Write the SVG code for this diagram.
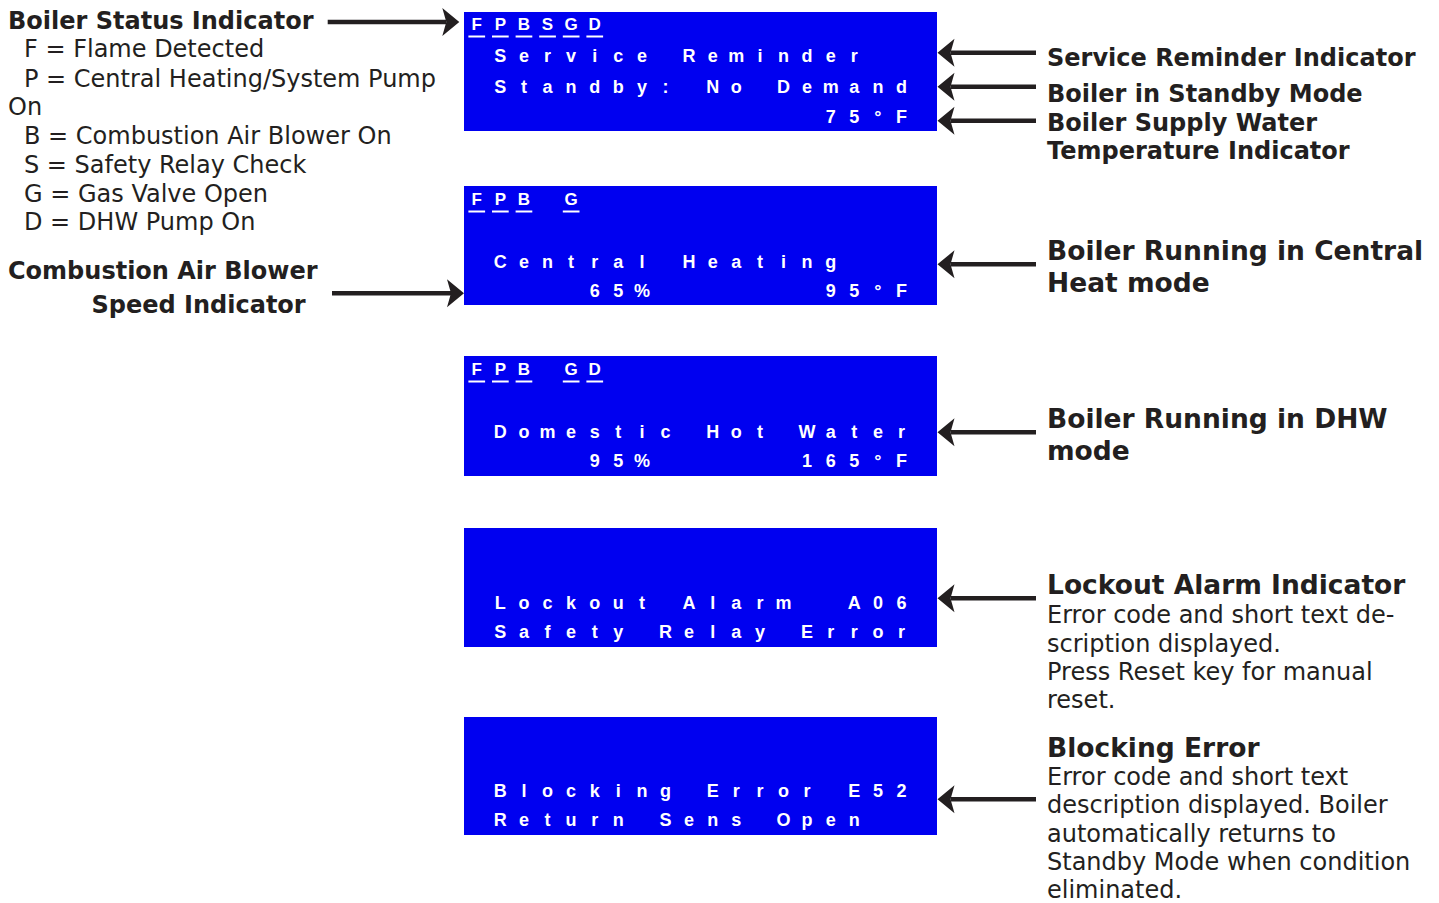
<svg xmlns="http://www.w3.org/2000/svg" width="1439" height="903" viewBox="0 0 1439 903">
<style>
.bg{fill:#ffffff}
.lcd{fill:#0000f0}
.lt{font-family:"Liberation Sans",Arial,sans-serif;font-weight:bold;font-size:18px;fill:#ffffff;text-anchor:middle;white-space:pre}
.lt0{font-size:17px}
.ul{fill:#ffffff}
.hb{font-family:"DejaVu Sans",Verdana,sans-serif;font-weight:bold;font-size:24px;fill:#231f20}
.hr{font-family:"DejaVu Sans",Verdana,sans-serif;font-size:24px;fill:#231f20}
.rb{font-family:"DejaVu Sans",Verdana,sans-serif;font-weight:bold;font-size:24px;fill:#231f20}
.rb2{font-family:"DejaVu Sans",Verdana,sans-serif;font-weight:bold;font-size:26.5px;fill:#231f20}
.rr{font-family:"DejaVu Sans",Verdana,sans-serif;font-size:24px;fill:#231f20}
.conn line{stroke:#231f20;stroke-width:4.5;fill:none;marker-end:url(#ah)}
</style>
<defs>
<marker id="ah" markerUnits="userSpaceOnUse" viewBox="0 -15 18 30" refX="4" refY="0" markerWidth="18" markerHeight="30" orient="auto">
<path d="M0,-14 L17,0 L0,14 L4,0 Z" fill="#231f20"/>
</marker>
</defs>
<rect class="bg" x="0" y="0" width="1439" height="903"/>

<g id="lcd-standby">
<rect class="lcd" x="464" y="12" width="473" height="119"/>
<text class="lt lt0" xml:space="preserve" x="476.7 500.3 523.9 547.5 571.1 594.7" y="30">FPBSGD</text>
<rect class="ul" x="468.4" y="35.5" width="16.7" height="2"/>
<rect class="ul" x="492" y="35.5" width="16.7" height="2"/>
<rect class="ul" x="515.6" y="35.5" width="16.7" height="2"/>
<rect class="ul" x="539.2" y="35.5" width="16.7" height="2"/>
<rect class="ul" x="562.8" y="35.5" width="16.7" height="2"/>
<rect class="ul" x="586.4" y="35.5" width="16.7" height="2"/>
<text class="lt" xml:space="preserve" x="500.3 523.9 547.5 571.1 594.7 618.3 641.9 665.5 689.1 712.7 736.3 759.9 783.5 807.1 830.7 854.3" y="61.5">Service Reminder</text>
<text class="lt" xml:space="preserve" x="500.3 523.9 547.5 571.1 594.7 618.3 641.9 665.5 689.1 712.7 736.3 759.9 783.5 807.1 830.7 854.3 877.9 901.5" y="92.5">Standby: No Demand</text>
<text class="lt" xml:space="preserve" x="830.7 854.3 877.9 901.5" y="123">75°F</text>
</g>

<g id="lcd-central">
<rect class="lcd" x="464" y="186" width="473" height="119"/>
<text class="lt lt0" xml:space="preserve" x="476.7 500.3 523.9 547.5 571.1" y="205">FPB G</text>
<rect class="ul" x="468.4" y="210.5" width="16.7" height="2"/>
<rect class="ul" x="492" y="210.5" width="16.7" height="2"/>
<rect class="ul" x="515.6" y="210.5" width="16.7" height="2"/>
<rect class="ul" x="562.8" y="210.5" width="16.7" height="2"/>
<text class="lt" xml:space="preserve" x="500.3 523.9 547.5 571.1 594.7 618.3 641.9 665.5 689.1 712.7 736.3 759.9 783.5 807.1 830.7" y="268">Central Heating</text>
<text class="lt" xml:space="preserve" x="594.7 618.3 641.9 665.5 689.1 712.7 736.3 759.9 783.5 807.1 830.7 854.3 877.9 901.5" y="297">65%       95°F</text>
</g>

<g id="lcd-dhw">
<rect class="lcd" x="464" y="356" width="473" height="120"/>
<text class="lt lt0" xml:space="preserve" x="476.7 500.3 523.9 547.5 571.1 594.7" y="375">FPB GD</text>
<rect class="ul" x="468.4" y="380.5" width="16.7" height="2"/>
<rect class="ul" x="492" y="380.5" width="16.7" height="2"/>
<rect class="ul" x="515.6" y="380.5" width="16.7" height="2"/>
<rect class="ul" x="562.8" y="380.5" width="16.7" height="2"/>
<rect class="ul" x="586.4" y="380.5" width="16.7" height="2"/>
<text class="lt" xml:space="preserve" x="500.3 523.9 547.5 571.1 594.7 618.3 641.9 665.5 689.1 712.7 736.3 759.9 783.5 807.1 830.7 854.3 877.9 901.5" y="438">Domestic Hot Water</text>
<text class="lt" xml:space="preserve" x="594.7 618.3 641.9 665.5 689.1 712.7 736.3 759.9 783.5 807.1 830.7 854.3 877.9 901.5" y="467">95%      165°F</text>
</g>

<g id="lcd-lockout">
<rect class="lcd" x="464" y="528" width="473" height="119"/>
<text class="lt" xml:space="preserve" x="500.3 523.9 547.5 571.1 594.7 618.3 641.9 665.5 689.1 712.7 736.3 759.9 783.5 807.1 830.7 854.3 877.9 901.5" y="609">Lockout Alarm  A06</text>
<text class="lt" xml:space="preserve" x="500.3 523.9 547.5 571.1 594.7 618.3 641.9 665.5 689.1 712.7 736.3 759.9 783.5 807.1 830.7 854.3 877.9 901.5" y="638">Safety Relay Error</text>
</g>

<g id="lcd-blocking">
<rect class="lcd" x="464" y="717" width="473" height="118"/>
<text class="lt" xml:space="preserve" x="500.3 523.9 547.5 571.1 594.7 618.3 641.9 665.5 689.1 712.7 736.3 759.9 783.5 807.1 830.7 854.3 877.9 901.5" y="797">Blocking Error E52</text>
<text class="lt" xml:space="preserve" x="500.3 523.9 547.5 571.1 594.7 618.3 641.9 665.5 689.1 712.7 736.3 759.9 783.5 807.1 830.7 854.3" y="826">Return Sens Open</text>
</g>

<g id="label-status">
<text class="hb" x="8" y="29.3">Boiler Status Indicator</text>
<text class="hr" x="24" y="57.3">F = Flame Detected</text>
<text class="hr" x="24" y="86.7">P = Central Heating/System Pump</text>
<text class="hr" x="8" y="115">On</text>
<text class="hr" x="24" y="144">B = Combustion Air Blower On</text>
<text class="hr" x="24" y="172.7">S = Safety Relay Check</text>
<text class="hr" x="24" y="201.7">G = Gas Valve Open</text>
<text class="hr" x="24" y="230">D = DHW Pump On</text>
</g>

<g id="label-blower">
<text class="hb" x="8" y="278.5">Combustion Air Blower</text>
<text class="hb" x="91.5" y="313">Speed Indicator</text>
</g>

<g id="label-service">
<text class="rb" x="1047" y="66">Service Reminder Indicator</text>
</g>
<g id="label-standby">
<text class="rb" x="1047" y="101.7">Boiler in Standby Mode</text>
</g>
<g id="label-temp">
<text class="rb" x="1047" y="131">Boiler Supply Water</text>
<text class="rb" x="1047" y="158.5">Temperature Indicator</text>
</g>
<g id="label-central">
<text class="rb2" x="1047" y="260">Boiler Running in Central</text>
<text class="rb2" x="1047" y="291.7">Heat mode</text>
</g>
<g id="label-dhw">
<text class="rb2" x="1047" y="428.3">Boiler Running in DHW</text>
<text class="rb2" x="1047" y="460">mode</text>
</g>
<g id="label-lockout">
<text class="rb2" x="1047" y="594.3">Lockout Alarm Indicator</text>
<text class="rr" x="1047" y="623.3">Error code and short text de-</text>
<text class="rr" x="1047" y="651.7">scription displayed.</text>
<text class="rr" x="1047" y="680">Press Reset key for manual</text>
<text class="rr" x="1047" y="708">reset.</text>
</g>
<g id="label-blocking">
<text class="rb2" x="1047" y="756.7">Blocking Error</text>
<text class="rr" x="1047" y="785">Error code and short text</text>
<text class="rr" x="1047" y="813.3">description displayed. Boiler</text>
<text class="rr" x="1047" y="841.7">automatically returns to</text>
<text class="rr" x="1047" y="870">Standby Mode when condition</text>
<text class="rr" x="1047" y="898.3">eliminated.</text>
</g>

<g id="connectors" class="conn">
<line x1="327.7" y1="22" x2="446.3" y2="22"/>
<line x1="332" y1="293.3" x2="451" y2="293.3"/>
<line x1="1036" y1="52.7" x2="950.5" y2="52.7"/>
<line x1="1036" y1="86.7" x2="950.5" y2="86.7"/>
<line x1="1036" y1="120.7" x2="950.5" y2="120.7"/>
<line x1="1036" y1="264.3" x2="950.5" y2="264.3"/>
<line x1="1036" y1="432.3" x2="950.5" y2="432.3"/>
<line x1="1036" y1="598.3" x2="950.5" y2="598.3"/>
<line x1="1036" y1="799.3" x2="950.5" y2="799.3"/>
</g>
</svg>
